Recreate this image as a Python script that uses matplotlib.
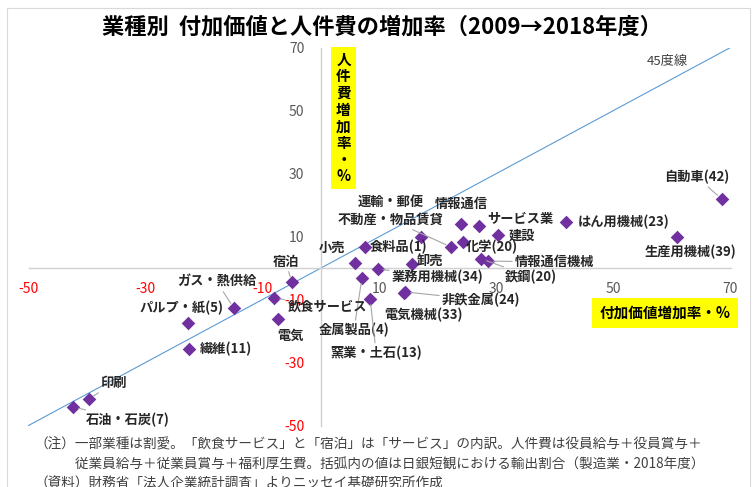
import matplotlib
matplotlib.use("Agg")
import matplotlib.pyplot as plt
from matplotlib.patches import Rectangle

plt.rcParams['font.family'] = ['Noto Sans CJK JP', 'DejaVu Sans']
plt.rcParams['axes.unicode_minus'] = False

# Data: (付加価値増加率, 人件費増加率) in %
industries = ['自動車(42)', '生産用機械(39)', 'はん用機械(23)', 'サービス業', '情報通信',
              '運輸・郵便', '不動産・物品賃貸', '建設', '化学(20)', '情報通信機械',
              '鉄鋼(20)', '食料品(1)', '小売', '卸売', '業務用機械(34)',
              '非鉄金属(24)', '電気機械(33)', '金属製品(4)', '窯業・土石(13)', '宿泊',
              '飲食サービス', '電気', 'ガス・熱供給', 'パルプ・紙(5)', '繊維(11)',
              '印刷', '石油・石炭(7)']
value_added = [68.5, 60.9, 41.9, 27.0, 23.9,
               17.1, 22.2, 30.3, 24.3, 28.5,
               27.4, 7.5, 5.8, 15.6, 9.7,
               14.4, 14.2, 7.0, 8.4, -5.0,
               -8.0, -7.4, -14.9, -22.7, -22.6,
               -39.7, -42.4]
labor_cost = [21.9, 9.8, 14.6, 13.3, 14.0,
              9.8, 6.7, 10.5, 8.3, 2.2,
              2.9, 6.7, 1.6, 1.3, -0.3,
              -7.6, -7.8, -3.2, -9.8, -4.4,
              -9.5, -16.2, -12.7, -17.5, -25.7,
              -41.6, -44.1]

ticks = [-50, -30, -10, 10, 30, 50, 70]
diag = [-50, 70]

# label offsets from point, pixels (right, down), and whether a leader line is drawn
label_pos = {
    '自動車(42)': (-25, -22, True), '生産用機械(39)': (13, 15, False),
    'はん用機械(23)': (58, 0, False), 'サービス業': (41, -7, False),
    '情報通信': (0, -20, False), '運輸・郵便': (-30, -35, False),
    '不動産・物品賃貸': (-60, -27, True), '建設': (24, 1, False),
    '化学(20)': (29, 5, False), '情報通信機械': (67, 1, True),
    '鉄鋼(20)': (50, 18, True), '食料品(1)': (34, 0, False),
    '小売': (-23, -15, False), '卸売': (18, -2, False),
    '業務用機械(34)': (60, 8, True), '非鉄金属(24)': (76, 8, True),
    '電気機械(33)': (19, 22, False), '金属製品(4)': (-8, 52, True),
    '窯業・土石(13)': (6, 54, True), '宿泊': (-6, -20, True),
    '飲食サービス': (53, 9, True), '電気': (13, 17, False),
    'ガス・熱供給': (-17, -26, True), 'パルプ・紙(5)': (-7, -15, False),
    '繊維(11)': (37, 0, False), '印刷': (25, -16, True),
    '石油・石炭(7)': (55, 13, True),
}

W, H = 754, 487
fig = plt.figure(figsize=(W / 100, H / 100), dpi=100)
fig.patches.append(Rectangle((7 / W, -0.01), 743 / W, (H - 8) / H + 0.01,
                             transform=fig.transFigure, fill=False,
                             edgecolor='#d9d9d9', lw=0.8))

ax = fig.add_axes([28.5 / W, (H - 425.5) / H, 702 / W, 378 / H])
ax.set_xlim(-50, 70)
ax.set_ylim(-50, 70)
for s in ['top', 'right']:
    ax.spines[s].set_visible(False)
ax.spines['left'].set_position(('data', 0))
ax.spines['bottom'].set_position(('data', 0))
for s in ['left', 'bottom']:
    ax.spines[s].set_color('#d0d0d0')
    ax.spines[s].set_linewidth(1.0)

ax.set_xticks(ticks)
ax.set_yticks(ticks)
ax.tick_params(axis='x', length=0, pad=10, labelsize=10)
ax.tick_params(axis='y', length=0, pad=12, labelsize=10)
for lab, t in zip(ax.get_xticklabels(), ticks):
    lab.set_color('#ff0000' if t < 0 else '#595959')
for lab, t in zip(ax.get_yticklabels(), ticks):
    lab.set_color('#ff0000' if t < 0 else '#595959')

# 45 degree line
ax.plot(diag, diag, color='#5b9bd5', lw=0.8, zorder=2)
ax.text(0.91, 0.962, '45度線', transform=ax.transAxes, fontsize=9.5,
        color='#404040', ha='center', va='center')

ax.scatter(value_added, labor_cost, marker='D', s=48, color='#7030a0', zorder=4,
           linewidths=0)

for name, x, y in zip(industries, value_added, labor_cost):
    dx, dy, leader = label_pos[name]
    props = None
    if leader:
        props = dict(arrowstyle='-', color='#a6a6a6', lw=0.8, shrinkA=0, shrinkB=4)
    ax.annotate(name, (x, y), xytext=(dx * 0.72, -dy * 0.72), textcoords='offset points',
                ha='center', va='center', fontsize=9.5, fontweight='bold',
                color='#262626', arrowprops=props, zorder=5)

# axis titles in yellow boxes
fig.text(343.5 / W, 1 - 118 / H, '\n'.join('人件費増加率・%'), ha='center', va='center',
         fontsize=10.5, fontweight='bold', linespacing=1.05,
         bbox=dict(boxstyle='square,pad=0.35', facecolor='#ffff00', edgecolor='none'))
fig.text(665 / W, 1 - 313 / H, '付加価値増加率・%', ha='center', va='center',
         fontsize=10.5, fontweight='bold',
         bbox=dict(boxstyle='square,pad=0.5', facecolor='#ffff00', edgecolor='none'))

fig.text(382 / W, 1 - 27 / H, '業種別  付加価値と人件費の増加率（2009→2018年度）',
         ha='center', va='center', fontsize=16, fontweight='bold')

notes = ['（注）一部業種は割愛。「飲食サービス」と「宿泊」は「サービス」の内訳。人件費は役員給与＋役員賞与＋',
         '　　　従業員給与＋従業員賞与＋福利厚生費。括弧内の値は日銀短観における輸出割合（製造業・2018年度）',
         '（資料）財務省「法人企業統計調査」よりニッセイ基礎研究所作成']
for i, line in enumerate(notes):
    fig.text(34 / W, 1 - (445 + 19.5 * i) / H, line, ha='left', va='center',
             fontsize=9.8, color='#404040')

fig.savefig('out.png', dpi=100)
